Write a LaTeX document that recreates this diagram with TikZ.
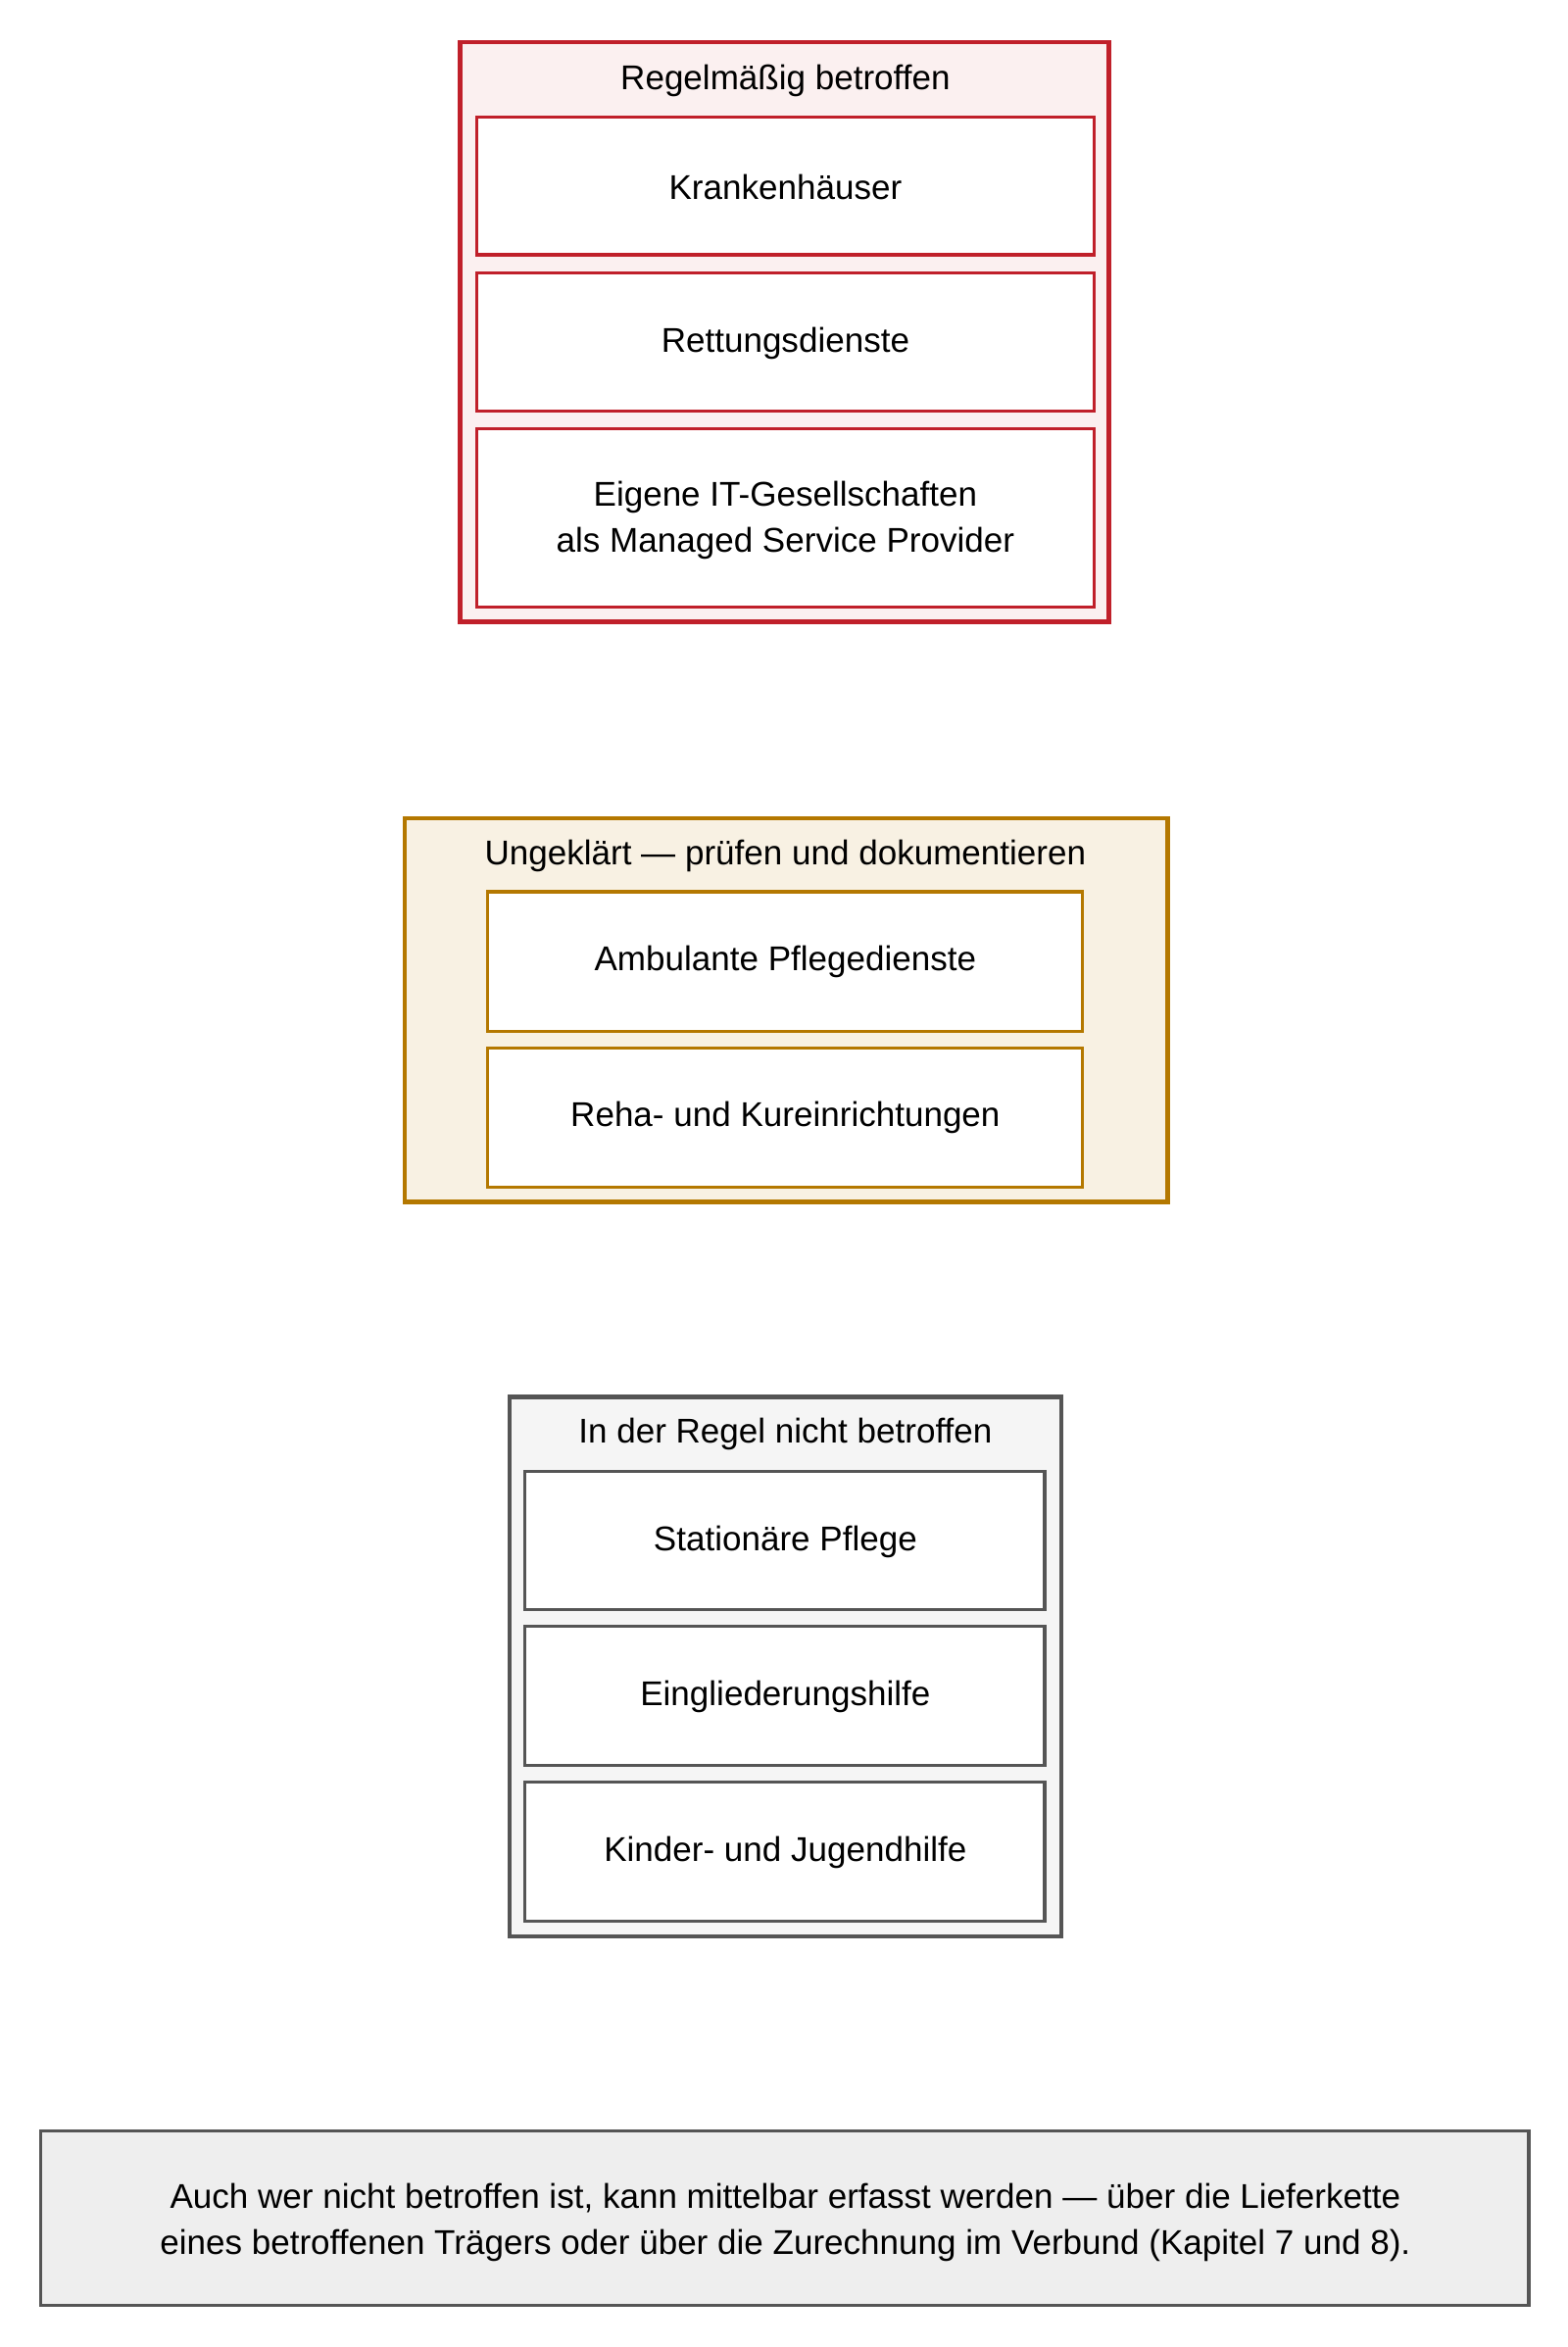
\documentclass[tikz,border=0pt]{standalone}
\usepackage{fontspec}
\setmainfont{Liberation Sans}
\begin{document}
\begin{tikzpicture}[x=1bp,y=-1bp,
  font=\fontsize{23}{31}\selectfont,
  outer/.style={line width=3bp},
  inner/.style={line width=2bp,fill=white},
  lbl/.style={align=center,inner sep=0}]
\definecolor{rstroke}{HTML}{C0202A}\definecolor{rfill}{HTML}{FBF0F0}
\definecolor{ostroke}{HTML}{B47800}\definecolor{ofill}{HTML}{F8F1E3}
\definecolor{gstroke}{HTML}{555555}\definecolor{gfill}{HTML}{F5F5F5}
\definecolor{nfill}{HTML}{EEEEEE}
\useasboundingbox (0,0) rectangle (1046,1566);
% red group
\draw[outer,draw=rstroke,fill=rfill] (307,28) rectangle (740,415);
\node[lbl] (rt) at (524,54) {Regelmäßig betroffen};
\draw[inner,draw=rstroke] (318,78) rectangle (730,170);
\node[lbl] (r1) at (524,125) {Krankenhäuser};
\draw[inner,draw=rstroke] (318,182) rectangle (730,274);
\node[lbl] (r2) at (524,229) {Rettungsdienste};
\draw[inner,draw=rstroke] (318,286) rectangle (730,405);
\node[lbl] (r3) at (524,347) {Eigene IT-Gesellschaften\\als Managed Service Provider};
% orange group
\draw[outer,draw=ostroke,fill=ofill] (270,546) rectangle (779,802);
\node[lbl] (ot) at (524,571) {Ungeklärt — prüfen und dokumentieren};
\draw[inner,draw=ostroke] (325,595) rectangle (722,688);
\node[lbl] (o1) at (524,642) {Ambulante Pflegedienste};
\draw[inner,draw=ostroke] (325,699) rectangle (722,792);
\node[lbl] (o2) at (524,746) {Reha- und Kureinrichtungen};
% gray group
\draw[outer,draw=gstroke,fill=gfill] (340,932) rectangle (708,1292);
\node[lbl] (gt) at (524,957) {In der Regel nicht betroffen};
\draw[inner,draw=gstroke] (350,982) rectangle (697,1074);
\node[lbl] (g1) at (524,1029) {Stationäre Pflege};
\draw[inner,draw=gstroke] (350,1085) rectangle (697,1178);
\node[lbl] (g2) at (524,1132) {Eingliederungshilfe};
\draw[inner,draw=gstroke] (350,1189) rectangle (697,1282);
\node[lbl] (g3) at (524,1236) {Kinder- und Jugendhilfe};
% note
\draw[line width=2bp,draw=gstroke,fill=nfill] (27,1422) rectangle (1020,1538);
\node[lbl] (n) at (524,1483) {Auch wer nicht betroffen ist, kann mittelbar erfasst werden — über die Lieferkette\\eines betroffenen Trägers oder über die Zurechnung im Verbund (Kapitel 7 und 8).};
\end{tikzpicture}
\end{document}
